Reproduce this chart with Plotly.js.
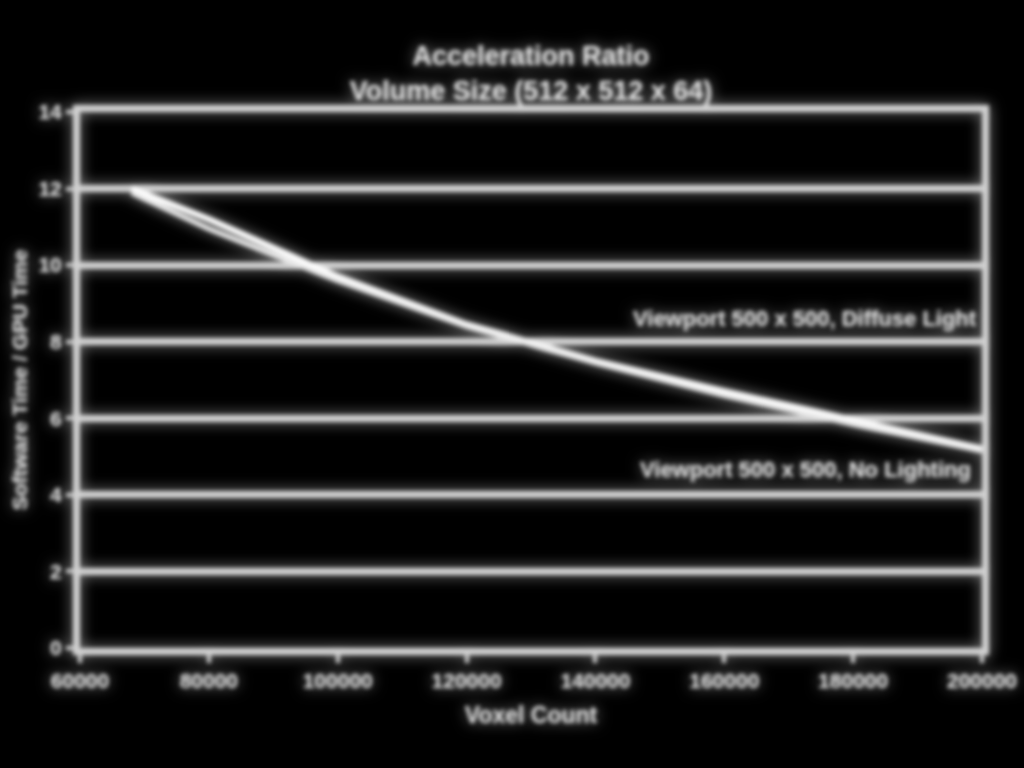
<!DOCTYPE html>
<html>
<head>
<meta charset="utf-8">
<script src="https://cdn.plot.ly/plotly-3.0.1.min.js"></script>
<style>
  html, body { margin: 0; padding: 0; background: #000; }
  #chart { width: 1024px; height: 768px; filter: blur(2.3px) drop-shadow(0 0 7px rgba(255,255,255,0.6)); }
</style>
</head>
<body>
<div id="chart"></div>
<script>
const voxelCount = [68000, 80000, 100000, 120000, 140000, 160000, 180000, 200000];
const diffuseLight = [12.0, 11.2, 9.7, 8.45, 7.5, 6.7, 5.95, 5.2];
const noLighting = [11.9, 10.95, 9.6, 8.4, 7.45, 6.6, 5.85, 5.15];
const xTicks = [60000, 80000, 100000, 120000, 140000, 160000, 180000, 200000];
const yTicks = [0, 2, 4, 6, 8, 10, 12, 14];
const seriesNames = ["Viewport 500 x 500, Diffuse Light", "Viewport 500 x 500, No Lighting"];

const fontFam = "Liberation Sans, Arial, sans-serif";
const txt = "#e6e6e6";
const traces = [
  { x: voxelCount, y: diffuseLight, name: seriesNames[0], mode: "lines",
    line: { color: "#ffffff", width: 6 } },
  { x: voxelCount, y: noLighting, name: seriesNames[1], mode: "lines",
    line: { color: "#ececec", width: 5 } }
];

const layout = {
  width: 1024, height: 768,
  paper_bgcolor: "rgba(0,0,0,0)", plot_bgcolor: "rgba(0,0,0,0)",
  margin: { l: 80, r: 42, t: 112, b: 120 },
  showlegend: false,
  font: { family: fontFam, color: txt, size: 18 },
  title: { text: "<b>Acceleration Ratio</b><br><b>Volume Size (512 x 512 x 64)</b>",
    x: 0.5, xref: "paper", y: 0.915, yref: "container", yanchor: "top",
    font: { family: fontFam, size: 27, color: txt } },
  xaxis: {
    range: [60000, 200000], tickvals: xTicks, ticktext: xTicks.map(v => "<b>" + v + "</b>"),
    showgrid: false, zeroline: false, showline: true, linecolor: "#d0d0d0", linewidth: 7, mirror: true,
    ticks: "outside", ticklen: 8, tickwidth: 4, tickcolor: "#d0d0d0",
    tickfont: { family: fontFam, size: 21, color: txt },
    title: { text: "<b>Voxel Count</b>", standoff: 18, font: { family: fontFam, size: 23, color: txt } }
  },
  yaxis: {
    range: [0, 14], tickvals: yTicks, ticktext: yTicks.map(v => "<b>" + v + "</b>"),
    showgrid: true, gridcolor: "#d0d0d0", gridwidth: 7, zeroline: false,
    showline: true, linecolor: "#d0d0d0", linewidth: 7, mirror: true,
    ticks: "outside", ticklen: 7, tickwidth: 4, tickcolor: "#d0d0d0",
    tickfont: { family: fontFam, size: 21, color: txt },
    title: { text: "<b>Software Time / GPU Time</b>", standoff: 8, font: { family: fontFam, size: 21, color: txt } }
  },
  annotations: [
    { xref: "paper", yref: "y", x: 0.997, y: 8.6, xanchor: "right", yanchor: "middle", showarrow: false,
      text: "<b>" + seriesNames[0] + "</b>", font: { family: fontFam, size: 22, color: txt } },
    { xref: "paper", yref: "y", x: 0.99, y: 4.65, xanchor: "right", yanchor: "middle", showarrow: false,
      text: "<b>" + seriesNames[1] + "</b>", font: { family: fontFam, size: 22, color: txt } }
  ]
};

Plotly.newPlot("chart", traces, layout, { displayModeBar: false, staticPlot: true });
</script>
</body>
</html>
